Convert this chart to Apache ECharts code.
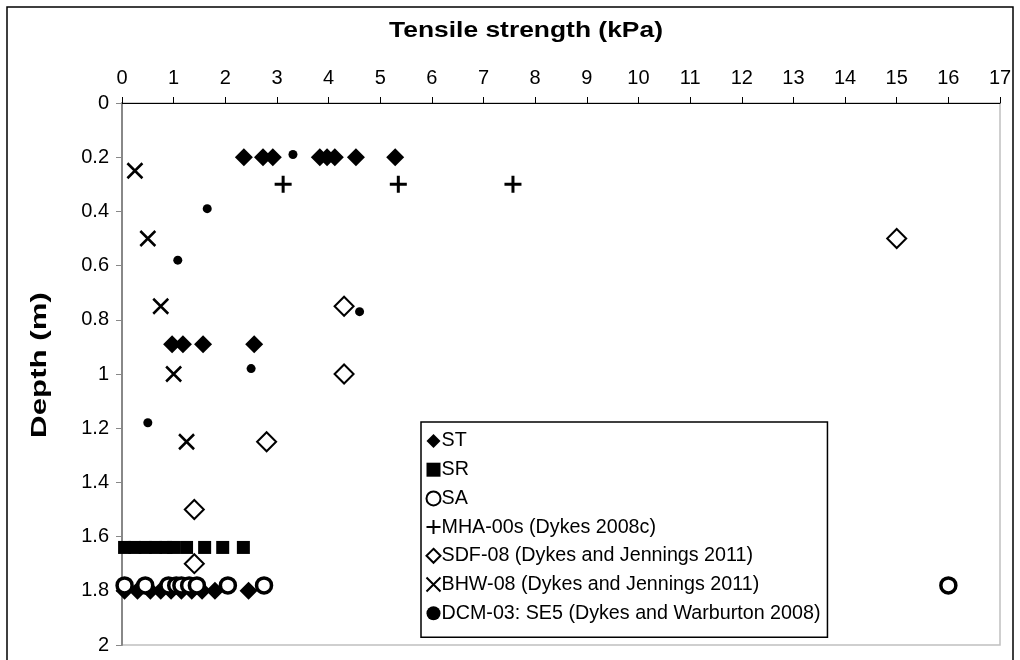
<!DOCTYPE html>
<html>
<head>
<meta charset="utf-8">
<script src="https://cdn.jsdelivr.net/npm/echarts@6/dist/echarts.min.js"></script>
<style>
html,body{margin:0;padding:0;background:#fff;}
#chart{width:1020px;height:660px;}
</style>
</head>
<body>
<div id="chart"></div>
<script>
// Tensile strength (kPa) vs depth (m)
var xTicks = [0,1,2,3,4,5,6,7,8,9,10,11,12,13,14,15,16,17];
var yTicks = [0,0.2,0.4,0.6,0.8,1,1.2,1.4,1.6,1.8,2];

var ST = [[2.36,0.2],[2.73,0.2],[2.92,0.2],[3.83,0.2],[3.97,0.2],[4.12,0.2],[4.53,0.2],[5.29,0.2],
          [0.97,0.89],[1.18,0.89],[1.57,0.89],[2.56,0.89],
          [0.05,1.8],[0.3,1.8],[0.55,1.8],[0.75,1.8],[0.95,1.8],[1.15,1.8],[1.35,1.8],[1.55,1.8],[1.8,1.8],[2.45,1.8]];
var SR = [[0.05,1.64],[0.25,1.64],[0.45,1.64],[0.65,1.64],[0.85,1.64],[1.0,1.64],[1.25,1.64],[1.6,1.64],[1.95,1.64],[2.35,1.64]];
var SA = [[0.05,1.78],[0.45,1.78],[0.9,1.78],[1.05,1.78],[1.15,1.78],[1.3,1.78],[1.45,1.78],[2.05,1.78],[2.75,1.78],[16,1.78]];
var MHA = [[3.12,0.3],[5.35,0.3],[7.57,0.3]];
var SDF = [[15,0.5],[4.3,0.75],[4.3,1.0],[2.8,1.25],[1.4,1.5],[1.4,1.7]];
var BHW = [[0.25,0.25],[0.5,0.5],[0.75,0.75],[1.0,1.0],[1.25,1.25]];
var DCM = [[3.31,0.19],[1.65,0.39],[1.08,0.58],[4.6,0.77],[2.5,0.98],[0.5,1.18]];

var names = ['ST','SR','SA','MHA-00s (Dykes 2008c)','SDF-08 (Dykes and Jennings 2011)','BHW-08 (Dykes and Jennings 2011)','DCM-03: SE5 (Dykes and Warburton 2008)'];

var FONT = '"Liberation Sans",Arial,sans-serif';
var PLUS = 'path://M0,5L10,5M5,0L5,10';
var CROSS = 'path://M0,0L10,10M10,0L0,10';

var chart = echarts.init(document.getElementById('chart'));
chart.setOption({
  animation:false,
  backgroundColor:'#fff',
  textStyle:{fontFamily:FONT,color:'#000'},
  graphic:[
    {type:'rect',shape:{x:7,y:7,width:1006,height:670},style:{fill:'none',stroke:'#000',lineWidth:1.5},silent:true,z:0},
    {type:'text',x:526,y:31,style:{text:'Tensile strength (kPa)',font:'bold 22px "Liberation Sans", Arial, sans-serif',fill:'#000',align:'center',verticalAlign:'middle'},scaleX:1.2,silent:true},
    {type:'text',x:40,y:365,rotation:Math.PI/2,style:{text:'Depth (m)',font:'bold 22px "Liberation Sans", Arial, sans-serif',fill:'#000',align:'center',verticalAlign:'middle'},scaleX:1.42,silent:true}
  ],
  grid:{left:122,top:103,right:20,bottom:15,show:true,borderColor:'#c0c0c0',borderWidth:1.5},
  xAxis:{type:'value',position:'top',min:0,max:17,interval:1,
    axisLine:{show:true,lineStyle:{color:'#000',width:1}},
    axisTick:{show:true,inside:false,length:6,lineStyle:{color:'#000'}},
    axisLabel:{fontSize:20,color:'#000',margin:15,fontFamily:FONT,formatter:function(v){return xTicks.indexOf(v)>=0?String(v):'';}},
    splitLine:{show:false}},
  yAxis:{type:'value',inverse:true,min:0,max:2,interval:0.2,
    axisLine:{show:true,lineStyle:{color:'#888',width:2}},
    axisTick:{show:true,length:6,lineStyle:{color:'#888'}},
    axisLabel:{fontSize:20,color:'#000',margin:13,fontFamily:FONT,
      formatter:function(v){var r=Math.round(v*10)/10;return yTicks.indexOf(r)>=0?String(r):'';}},
    splitLine:{show:false}},
  legend:{orient:'vertical',left:421,top:422,width:480,
    backgroundColor:'#fff',borderColor:'#000',borderWidth:1.5,borderRadius:0,
    padding:[9,7,14,3],itemGap:8.7,itemWidth:14,itemHeight:14,
    textStyle:{fontSize:19.7,color:'#000',fontFamily:FONT,padding:[0,0,0,-4]},
    data:names},
  series:[
    {name:names[0],type:'scatter',data:ST,symbol:'diamond',symbolSize:18,itemStyle:{color:'#000',opacity:1},z:5},
    {name:names[1],type:'scatter',data:SR,symbol:'rect',symbolSize:13,itemStyle:{color:'#000',opacity:1},z:4},
    {name:names[2],type:'scatter',data:SA,symbol:'circle',symbolSize:15,itemStyle:{color:'#fff',borderColor:'#000',borderWidth:3.5,opacity:1},z:5},
    {name:names[3],type:'scatter',data:MHA,symbol:PLUS,symbolSize:17,itemStyle:{color:'none',borderColor:'#000',borderWidth:3,opacity:1},z:4},
    {name:names[4],type:'scatter',data:SDF,symbol:'diamond',symbolSize:19,itemStyle:{color:'#fff',borderColor:'#000',borderWidth:2,opacity:1},z:4},
    {name:names[5],type:'scatter',data:BHW,symbol:CROSS,symbolSize:15,itemStyle:{color:'none',borderColor:'#000',borderWidth:2.5,opacity:1},z:4},
    {name:names[6],type:'scatter',data:DCM,symbol:'circle',symbolSize:9,itemStyle:{color:'#000',opacity:1},z:4}
  ]
});
</script>
</body>
</html>
